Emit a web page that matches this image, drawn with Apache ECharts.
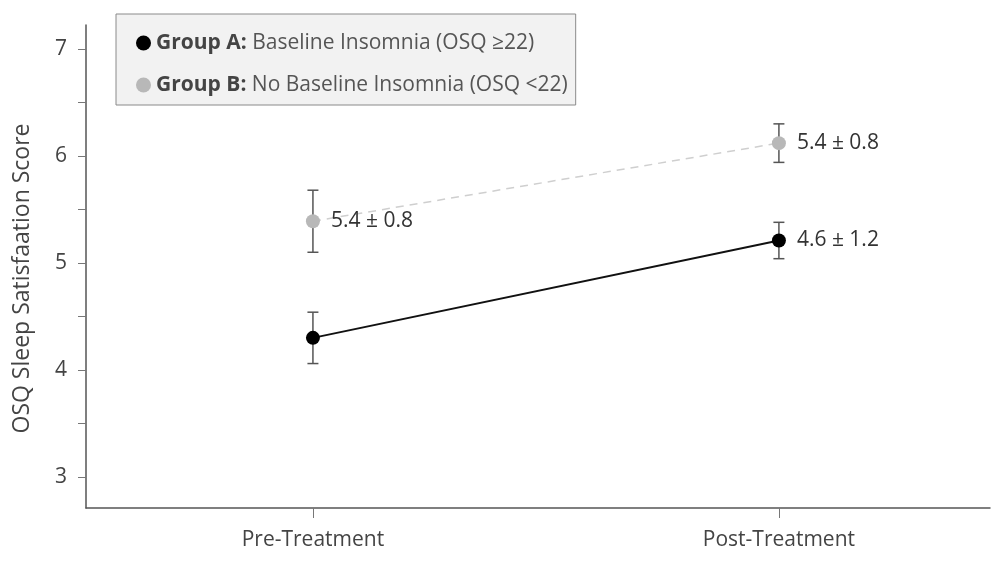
<!DOCTYPE html>
<html><head><meta charset="utf-8">
<script src="https://cdn.jsdelivr.net/npm/echarts@6/dist/echarts.min.js"></script>
<style>html,body{margin:0;padding:0;background:#fff}#c{width:992px;height:586px}</style>
</head><body><div id="c"></div>
<script>
const categories = ['Pre-Treatment', 'Post-Treatment'];
const categoryPos = [0, 1];
const groupAName = 'Group A';
const groupADesc = 'Baseline Insomnia (OSQ ≥22)';
const groupBName = 'Group B';
const groupBDesc = 'No Baseline Insomnia (OSQ <22)';
const groupAMean = [4.30, 5.21];
const groupAErr = [0.24, 0.17];
const groupALabels = ['', '4.6 ± 1.2'];
const groupBMean = [5.39, 6.12];
const groupBErr = [0.29, 0.18];
const groupBLabels = ['5.4 ± 0.8', '5.4 ± 0.8'];
const yTicks = [3, 3.5, 4, 4.5, 5, 5.5, 6, 6.5, 7];
const yTickLabels = [3, 4, 5, 6, 7];
const yAxisName = 'OSQ Sleep Satisfaation Score';

const FONT = 'Open Sans';
const chart = echarts.init(document.getElementById('c'), null, {renderer: 'canvas'});

function pts(mean, labels) {
  return mean.map((v, i) => ({value: [categoryPos[i], v], label: {show: labels[i] !== '', formatter: labels[i]}}));
}
function errData(mean, err) {
  return mean.map((v, i) => [categoryPos[i], v - err[i], v + err[i]]);
}
function errRender(params, api) {
  const x = api.value(0);
  const lo = api.coord([x, api.value(1)]);
  const hi = api.coord([x, api.value(2)]);
  const half = 5.5;
  const style = {stroke: '#555', lineWidth: 1.5};
  return {
    type: 'group',
    children: [
      {type: 'line', shape: {x1: lo[0], y1: lo[1], x2: hi[0], y2: hi[1]}, style},
      {type: 'line', shape: {x1: lo[0] - half, y1: lo[1], x2: lo[0] + half, y2: lo[1]}, style},
      {type: 'line', shape: {x1: hi[0] - half, y1: hi[1], x2: hi[0] + half, y2: hi[1]}, style}
    ]
  };
}
const descMap = {};
descMap[groupAName] = groupADesc;
descMap[groupBName] = groupBDesc;

const labelStyle = {position: 'right', distance: 11, fontFamily: FONT, fontSize: 21, color: '#333'};

chart.setOption({
  backgroundColor: '#fff',
  animation: false,
  grid: {left: 86, right: 2, top: 25, bottom: 78, containLabel: false},
  legend: {
    left: 116, top: 14,
    orient: 'vertical',
    data: [groupAName, groupBName],
    icon: 'circle',
    itemWidth: 15, itemHeight: 15,
    itemGap: 20,
    itemTextGap: 11,
    padding: [18, 8, 9, 20],
    backgroundColor: '#f2f2f2',
    borderColor: '#8a8a8a',
    borderWidth: 1,
    formatter: n => '{b|' + n + ':} ' + descMap[n],
    textStyle: {
      fontFamily: FONT, fontSize: 21, color: '#555', lineHeight: 22,
      rich: {b: {fontFamily: FONT, fontSize: 21, fontWeight: 'bold', color: '#444', lineHeight: 22}}
    }
  },
  xAxis: {
    type: 'value',
    min: -0.487, max: 1.453,
    axisLine: {show: true, onZero: false, lineStyle: {color: '#555', width: 1.5}},
    axisTick: {show: true, customValues: categoryPos, length: 10, lineStyle: {color: '#777', width: 1}},
    axisLabel: {
      customValues: categoryPos,
      formatter: v => { const i = categoryPos.indexOf(v); return i >= 0 ? categories[i] : ''; },
      fontFamily: FONT, fontSize: 21, color: '#444', margin: 22
    },
    splitLine: {show: false}
  },
  yAxis: {
    type: 'value',
    min: 2.71, max: 7.224,
    name: yAxisName,
    nameLocation: 'middle',
    nameGap: 52,
    nameRotate: 90,
    nameTextStyle: {fontFamily: FONT, fontSize: 23, color: '#444', padding: [0, 24, 0, 0]},
    axisLine: {show: true, onZero: false, lineStyle: {color: '#555', width: 1.5}},
    axisTick: {show: true, customValues: yTicks, length: 8, lineStyle: {color: '#777', width: 1}},
    axisLabel: {customValues: yTickLabels, fontFamily: FONT, fontSize: 21, color: '#444', margin: 19},
    splitLine: {show: false}
  },
  series: [
    {
      type: 'custom', name: 'errA', renderItem: errRender, data: errData(groupAMean, groupAErr),
      z: 1, encode: {x: 0, y: [1, 2]}, silent: true
    },
    {
      type: 'custom', name: 'errB', renderItem: errRender, data: errData(groupBMean, groupBErr),
      z: 1, encode: {x: 0, y: [1, 2]}, silent: true
    },
    {
      type: 'line', name: groupBName, data: pts(groupBMean, groupBLabels), z: 2,
      symbol: 'circle', symbolSize: 14,
      itemStyle: {color: '#b8b8b8'},
      lineStyle: {color: '#cfcfcf', width: 1.5, type: [8, 6]},
      label: labelStyle
    },
    {
      type: 'line', name: groupAName, data: pts(groupAMean, groupALabels), z: 3,
      symbol: 'circle', symbolSize: 14,
      itemStyle: {color: '#000'},
      lineStyle: {color: '#111', width: 2},
      label: labelStyle
    }
  ]
});
</script></body></html>
